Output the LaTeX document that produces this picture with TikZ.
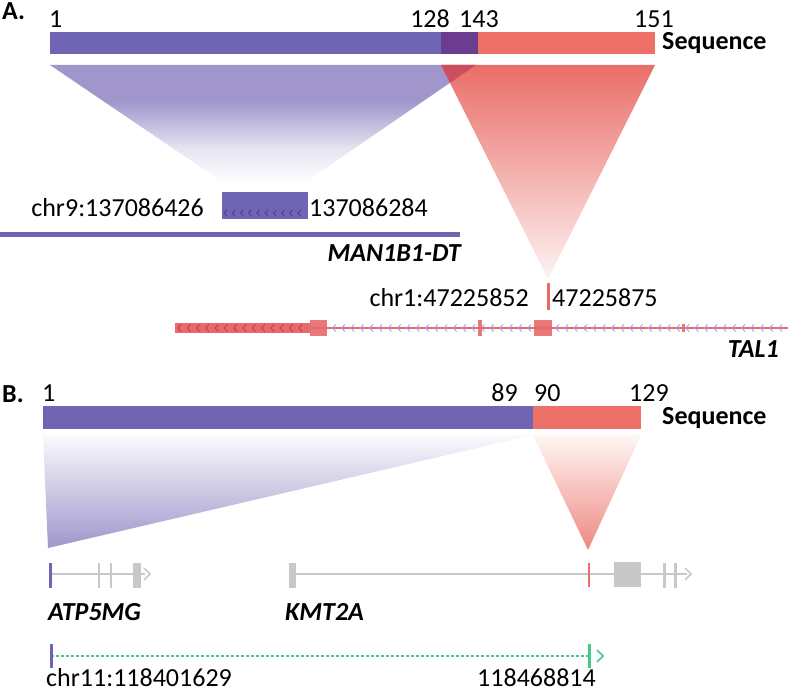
\documentclass[tikz,border=0pt]{standalone}
\usepackage{fontspec}
\setmainfont{Carlito}
\usetikzlibrary{positioning}
\definecolor{seqpurple}{HTML}{7064B4}
\definecolor{seqdark}{HTML}{4A3E96}
\definecolor{seqred}{HTML}{EC7068}
\definecolor{seqoverlap}{HTML}{6C3D8E}
\definecolor{fanpurple}{HTML}{A096CC}
\definecolor{fanred}{HTML}{EA6E68}
\definecolor{fanoverlap}{HTML}{C9505C}
\definecolor{talred}{HTML}{E8696A}
\definecolor{taldark}{HTML}{B84048}
\definecolor{chevblue}{HTML}{9C9CEC}
\definecolor{genegray}{HTML}{C8C8C8}
\definecolor{peach}{HTML}{FDC3AB}
\definecolor{salmon}{HTML}{EE8882}
\definecolor{dashgreen}{HTML}{44C88C}
\pgfdeclareverticalshading{purplefade}{100bp}{color(0bp)=(white); color(25bp)=(white); color(40bp)=(fanpurple!25); color(60bp)=(fanpurple); color(100bp)=(fanpurple)}
\begin{document}
\begin{tikzpicture}[x=1pt, y=-1pt,
    lbl/.style={inner sep=0pt, font=\fontsize{26}{30}\selectfont},
    seqlbl/.style={inner sep=0pt, font=\fontsize{26}{30}\selectfont\bfseries},
    genelbl/.style={inner sep=0pt, font=\fontsize{26}{30}\selectfont\bfseries\itshape},
    panel/.style={inner sep=0pt, font=\fontsize{26}{30}\selectfont\bfseries},
    exon/.style={fill=talred, fill opacity=0.9},
    tickline/.style={line width=3pt},
    chev/.style={line width=0.9pt},
    track/.style={genegray, line width=1.5pt}
  ]
  \useasboundingbox (0,0) rectangle (788,692);

  % panel A
  \node[panel, anchor=base west] (labA) at (2,20) {A.};
  \fill[seqpurple] (50,32) rectangle (441,54);
  \fill[seqoverlap] (441,32) rectangle (478,54);
  \fill[seqred] (478,32) rectangle (655,54);
  \node[lbl, anchor=base west] (a1) at (49,28) {1};
  \node[lbl, anchor=base east] (a128) at (450,28) {128};
  \node[lbl, anchor=base west] (a143) at (459,28) {143};
  \node[lbl, anchor=base] (a151) at (654,28) {151};
  \node[seqlbl, anchor=base west] (seqA) at (662,50) {Sequence};

  \coordinate (pA1) at (50,65);
  \coordinate (pA2) at (476,65);
  \coordinate (pA3) at (301,185);
  \coordinate (pA4) at (227,185);
  \coordinate (rA1) at (441,65);
  \coordinate (rA2) at (655,65);
  \coordinate (rA3) at (548,279);
  \shade[shading=purplefade] (pA1) -- (pA2) -- (pA3) -- (pA4) -- cycle;
  \shade[top color=fanred, bottom color=fanred!8] (rA1) -- (rA2) -- (rA3) -- cycle;
  \fill[fanoverlap] (rA1) -- (pA2) -- (intersection of pA2--pA3 and rA1--rA3) -- cycle;

  \node[lbl, anchor=base east] (chr9l) at (204,217) {chr9:137086426};
  \fill[seqpurple] (222,192) rectangle (308,219);
  \foreach \x in {224,232.2,...,302}
    \draw[seqdark, chev] (\x+3,210) -- (\x,213) -- (\x+3,216);
  \node[lbl, anchor=base west] (chr9r) at (309,217) {137086284};
  \coordinate (manL) at (0,234.5);
  \coordinate (manR) at (460,234.5);
  \draw[seqpurple, line width=5pt] (manL) -- (manR);
  \node[genelbl, anchor=base east] (man) at (461,262) {MAN1B1-DT};

  \node[lbl, anchor=base east] (chr1l) at (529,307) {chr1:47225852};
  \draw[talred, tickline] (548,283) -- (548,310);
  \node[lbl, anchor=base west] (chr1r) at (552,307) {47225875};
  \coordinate (talL) at (310,328);
  \coordinate (talR) at (788,328);
  \draw[talred, line width=2pt] (talL) -- (talR);
  \foreach \x in {314,323.3,...,786}
    \draw[chevblue, chev] (\x+3,324.5) -- (\x,328) -- (\x+3,331.5);
  \fill[talred] (175,323) rectangle (310,333);
  \foreach \x in {178,187.3,...,306}
    \draw[taldark, chev] (\x+3,324.5) -- (\x,328) -- (\x+3,331.5);
  \fill[exon] (310,320) rectangle (327,336);
  \fill[exon] (478,320) rectangle (482,336);
  \fill[exon] (534,320) rectangle (552,336);
  \fill[exon] (682,324) rectangle (685,332);
  \node[genelbl, anchor=base east] (tal) at (779,358) {TAL1};

  % panel B
  \node[panel, anchor=base west] (labB) at (2,403) {B.};
  \fill[seqpurple] (43,406) rectangle (533,429);
  \fill[seqred] (533,406) rectangle (641,429);
  \node[lbl, anchor=base west] (b1) at (42,402) {1};
  \node[lbl, anchor=base east] (b89) at (518,402) {89};
  \node[lbl, anchor=base west] (b90) at (534,402) {90};
  \node[lbl, anchor=base] (b129) at (649,402) {129};
  \node[seqlbl, anchor=base west] (seqB) at (662,425) {Sequence};

  \shade[top color=fanpurple!5, bottom color=fanpurple] (43,435) -- (533,435) -- (48,548) -- cycle;
  \shade[top color=peach!15, middle color=peach, bottom color=salmon] (533,435) -- (641,435) -- (588,550) -- cycle;

  \coordinate (atpL) at (50,574);
  \coordinate (atpR) at (145,574);
  \draw[track] (atpL) -- (atpR);
  \draw[genegray, line width=2pt] (99,563) -- (99,588);
  \draw[genegray, line width=2pt] (111,563) -- (111,588);
  \fill[genegray] (133,563) rectangle (141,588);
  \draw[track] (144,568) -- (150,574) -- (144,580);
  \draw[seqpurple, tickline] (50,563) -- (50,588);

  \coordinate (kmtL) at (295,574);
  \coordinate (kmtR) at (687,574);
  \draw[track] (kmtL) -- (kmtR);
  \fill[genegray] (289,563) rectangle (296,588);
  \fill[genegray] (614,562) rectangle (641,587);
  \draw[genegray, tickline] (664,563) -- (664,588);
  \draw[genegray, tickline] (675,563) -- (675,588);
  \draw[track] (685,568) -- (691,574) -- (685,580);
  \draw[seqred, line width=2pt] (589,563) -- (589,587);
  \node[genelbl, anchor=base west] (atp) at (48,620) {ATP5MG};
  \node[genelbl, anchor=base west] (kmt) at (285,620) {KMT2A};

  \coordinate (brkL) at (51,656);
  \coordinate (brkR) at (589,656);
  \draw[dashgreen, line width=1.5pt, dash pattern=on 3pt off 2pt] (brkL) -- (brkR);
  \draw[seqpurple, tickline] (51,644) -- (51,668);
  \draw[dashgreen, tickline] (589,644) -- (589,668);
  \draw[dashgreen, line width=1.5pt] (597,650) -- (603,656) -- (597,662);
  \node[lbl, anchor=base west] (chr11l) at (46,686) {chr11:118401629};
  \node[lbl, anchor=base east] (chr11r) at (596,686) {118468814};
\end{tikzpicture}
\end{document}
